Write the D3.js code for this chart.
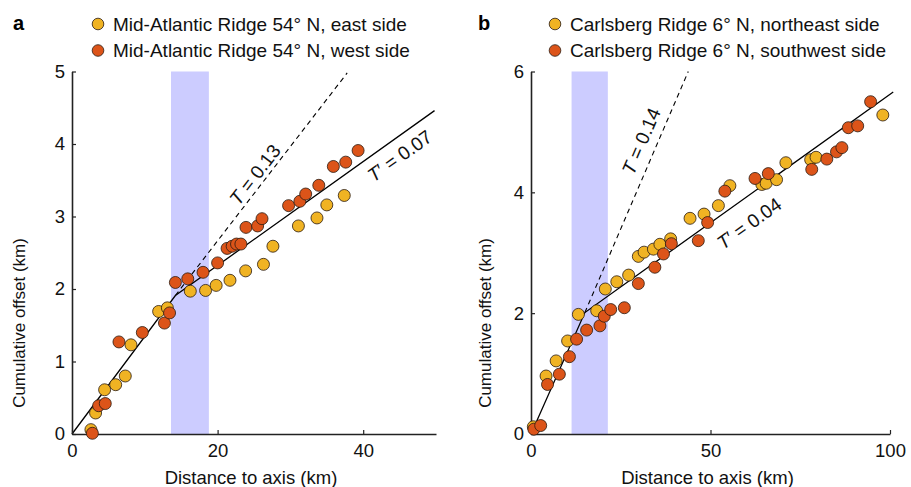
<!DOCTYPE html>
<html>
<head>
<meta charset="utf-8">
<script src="https://cdn.jsdelivr.net/npm/d3@7"></script>
<style>
  html, body { margin: 0; padding: 0; background: #fff; }
  svg { display: block; font-family: "Liberation Sans", Arial, Helvetica, sans-serif; }
</style>
</head>
<body>
<svg id="chart" width="911" height="487"></svg>
<script>
// Cumulative offset vs distance to axis: [distance (km), offset (km)]
const midAtlanticEast = [
  [2.6, 0.06], [3.24, 0.29], [4.48, 0.61], [6.0, 0.68], [7.32, 0.80], [8.1, 1.23],
  [11.9, 1.69], [13.1, 1.74], [16.25, 1.97], [18.35, 1.98], [19.8, 2.05], [21.7, 2.12],
  [23.85, 2.25], [26.3, 2.34], [27.6, 2.59], [31.1, 2.87], [33.65, 2.98], [35.0, 3.16],
  [37.4, 3.29]
];
const midAtlanticWest = [
  [2.8, 0.01], [3.66, 0.39], [4.57, 0.42], [6.45, 1.27], [9.66, 1.40], [12.7, 1.53],
  [13.4, 1.67], [14.2, 2.09], [15.9, 2.14], [18.0, 2.23], [20.0, 2.36], [21.3, 2.56],
  [22.0, 2.59], [22.6, 2.62], [23.2, 2.62], [23.9, 2.85], [25.5, 2.87], [26.1, 2.97],
  [29.75, 3.15], [31.3, 3.21], [32.1, 3.31], [33.9, 3.43], [35.9, 3.69], [37.6, 3.75],
  [39.3, 3.91]
];
const carlsbergNE = [
  [0.65, 0.12], [4.2, 0.96], [7.0, 1.21], [10.2, 1.54], [13.2, 1.98], [18.3, 2.04],
  [20.7, 2.40], [23.9, 2.52], [27.2, 2.63], [29.9, 2.94], [31.5, 3.01], [34.1, 3.06],
  [35.9, 3.14], [38.9, 3.23], [44.3, 3.57], [48.2, 3.64], [52.2, 3.78], [55.4, 4.11],
  [64.3, 4.13], [65.5, 4.15], [68.4, 4.21], [71.0, 4.49], [77.9, 4.54], [79.4, 4.58],
  [98.0, 5.28]
];
const carlsbergSW = [
  [0.8, 0.08], [2.7, 0.14], [4.6, 0.82], [7.9, 0.99], [10.7, 1.28], [12.7, 1.57],
  [15.5, 1.72], [19.2, 1.79], [20.4, 1.95], [22.2, 2.06], [26.0, 2.09], [29.9, 2.49],
  [34.5, 2.76], [36.9, 2.98], [39.1, 3.15], [46.6, 3.20], [49.2, 3.50], [54.0, 4.02],
  [62.4, 4.23], [66.1, 4.31], [78.2, 4.38], [82.4, 4.55], [85.1, 4.67], [86.6, 4.74],
  [88.4, 5.07], [91.0, 5.10], [94.6, 5.50]
];

// Two-segment fits and the extrapolated early-stage trend
const fitA = [[0, 0], [14.2, 1.91], [49.8, 4.46]];
const trendA = [[14.2, 1.91], [37.8, 4.98]];
const fitB = [[0, 0], [15.0, 2.01], [100.9, 5.66]];
const trendB = [[15.0, 2.01], [43.8, 6.0]];

// Shaded transition zones (km)
const bandA = [13.6, 18.8];
const bandB = [11.3, 21.4];

// Axis ticks
const xTicksA = [0, 20, 40];
const yTicksA = [0, 1, 2, 3, 4, 5];
const xTicksB = [0, 50, 100];
const yTicksB = [0, 2, 4, 6];

const legendA = ["Mid-Atlantic Ridge 54\u00B0 N, east side", "Mid-Atlantic Ridge 54\u00B0 N, west side"];
const legendB = ["Carlsberg Ridge 6\u00B0 N, northeast side", "Carlsberg Ridge 6\u00B0 N, southwest side"];

const colEast = "#F0B323";
const colWest = "#DC5419";

const svg = d3.select("#chart");

const panels = [
  {
    letter: "a", left: 72, right: 436, xDomain: [0, 50], yDomain: [0, 5],
    xTicks: xTicksA, yTicks: yTicksA, band: bandA, fit: fitA, trend: trendA,
    series: [midAtlanticEast, midAtlanticWest], legend: legendA,
    letterX: 13, legendX: 98, yTitleX: 19,
    labels: [
      { seg: trendA, at: [25.1, 3.58], prime: false, value: "0.13" },
      { seg: [fitA[1], fitA[2]], at: [45.0, 3.84], prime: true, value: "0.07" }
    ]
  },
  {
    letter: "b", left: 531, right: 890, xDomain: [0, 100], yDomain: [0, 6],
    xTicks: xTicksB, yTicks: yTicksB, band: bandB, fit: fitB, trend: trendB,
    series: [carlsbergNE, carlsbergSW], legend: legendB,
    letterX: 478, legendX: 555, yTitleX: 485,
    labels: [
      { seg: trendB, at: [30.6, 4.85], prime: false, value: "0.14" },
      { seg: [fitB[1], fitB[2]], at: [60.7, 3.49], prime: true, value: "0.04" }
    ]
  }
];

const plotTop = 71.5, plotBottom = 434;

panels.forEach(p => {
  const x = d3.scaleLinear().domain(p.xDomain).range([p.left, p.right]);
  const y = d3.scaleLinear().domain(p.yDomain).range([plotBottom, plotTop]);
  const g = svg.append("g");

  // transition zone
  g.append("rect")
    .attr("x", x(p.band[0])).attr("width", x(p.band[1]) - x(p.band[0]))
    .attr("y", plotTop).attr("height", plotBottom - plotTop)
    .attr("fill", "#CCCCFF");

  const line = d3.line().x(d => x(d[0])).y(d => y(d[1]));
  g.append("path").datum(p.trend).attr("d", line)
    .attr("fill", "none").attr("stroke", "#000").attr("stroke-width", 1.1)
    .attr("stroke-dasharray", "5,4");
  g.append("path").datum(p.fit).attr("d", line)
    .attr("fill", "none").attr("stroke", "#000").attr("stroke-width", 1.3);

  // axes
  const fmt = d3.format("d");
  const xAxis = d3.axisBottom(x).tickValues(p.xTicks).tickFormat(fmt)
    .tickSizeInner(-4).tickSizeOuter(0).tickPadding(10);
  const yAxis = d3.axisLeft(y).tickValues(p.yTicks).tickFormat(fmt)
    .tickSizeInner(-4).tickSizeOuter(0).tickPadding(7);
  const gx = g.append("g").attr("transform", `translate(0,${plotBottom})`).call(xAxis);
  const gy = g.append("g").attr("transform", `translate(${p.left},0)`).call(yAxis);
  [gx, gy].forEach(a => {
    a.select(".domain").attr("stroke", "#222").attr("stroke-width", 1.6);
    a.selectAll(".tick line").attr("stroke", "#222").attr("stroke-width", 1.2);
    a.selectAll(".tick text").attr("font-size", 18.5).attr("fill", "#111")
      .attr("font-family", "'Liberation Sans', Arial, sans-serif");
  });

  // points
  p.series.forEach((s, i) => {
    g.append("g").selectAll("circle").data(s).join("circle")
      .attr("cx", d => x(d[0])).attr("cy", d => y(d[1])).attr("r", 6)
      .attr("fill", i === 0 ? colEast : colWest)
      .attr("stroke", "#2a1a10").attr("stroke-width", 0.8);
  });

  // slope labels
  p.labels.forEach(l => {
    const [a, b] = l.seg;
    const ang = Math.atan2(y(b[1]) - y(a[1]), x(b[0]) - x(a[0])) * 180 / Math.PI;
    const t = g.append("text")
      .attr("transform", `translate(${x(l.at[0])},${y(l.at[1])}) rotate(${ang})`)
      .attr("text-anchor", "middle").attr("dominant-baseline", "central")
      .attr("font-size", 19).attr("fill", "#111");
    t.append("tspan").attr("font-style", "italic").text("T");
    if (l.prime) t.append("tspan").text("\u2032");
    t.append("tspan").text(" = " + l.value);
  });

  // axis titles
  svg.append("text")
    .attr("x", (p.left + p.right) / 2 - 3).attr("y", 484)
    .attr("text-anchor", "middle").attr("font-size", 18.5).attr("fill", "#111")
    .text("Distance to axis (km)");
  svg.append("text")
    .attr("transform", `translate(${p.yTitleX},323) rotate(-90)`)
    .attr("text-anchor", "middle").attr("dominant-baseline", "central")
    .attr("font-size", 17).attr("fill", "#111")
    .text("Cumulative offset (km)");

  // panel letter
  svg.append("text").attr("x", p.letterX).attr("y", 30)
    .attr("font-size", 20).attr("font-weight", "bold").attr("fill", "#000")
    .text(p.letter);

  // legend
  p.legend.forEach((txt, i) => {
    const ly = 24 + i * 26.5;
    svg.append("circle").attr("cx", p.legendX).attr("cy", ly).attr("r", 5.8)
      .attr("fill", i === 0 ? colEast : colWest)
      .attr("stroke", "#2a1a10").attr("stroke-width", 0.8);
    svg.append("text").attr("x", p.legendX + 15).attr("y", ly)
      .attr("dominant-baseline", "central").attr("font-size", 19).attr("fill", "#111")
      .text(txt);
  });
});
</script>
</body>
</html>
